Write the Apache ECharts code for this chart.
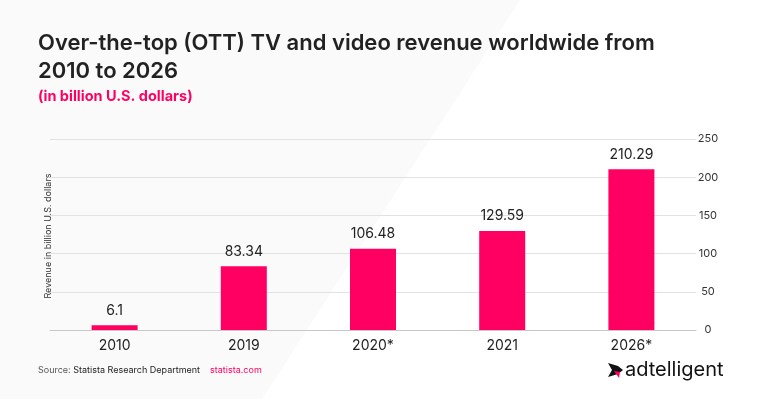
<!DOCTYPE html>
<html>
<head>
<meta charset="utf-8">
<script src="https://cdn.jsdelivr.net/npm/echarts@6/dist/echarts.min.js"></script>
<style>
  html, body { margin: 0; padding: 0; background: #fff; }
  #main { width: 760px; height: 399px; }
</style>
</head>
<body>
<div id="main"></div>
<script>
// data
var years = ['2010', '2019', '2020*', '2021', '2026*'];
var revenue = [6.1, 83.34, 106.48, 129.59, 210.29];
var yTicks = [0, 50, 100, 150, 200, 250];

var chartDom = document.getElementById('main');
var myChart = echarts.init(chartDom);
var pink = '#ff0062';
var font = 'Inter, "Noto Sans", sans-serif';

var option = {
  backgroundColor: '#fff',
  textStyle: { fontFamily: font },
  animation: false,
  graphic: [
    // light panel behind the left side
    {
      type: 'polygon', z: -10, silent: true,
      shape: { points: [[0, 0], [520, 0], [262, 399], [0, 399]] },
      style: { fill: '#fafafa' }
    },
    {
      type: 'text', left: 38, top: 29,
      style: {
        text: 'Over-the-top (OTT) TV and video revenue worldwide from\n2010 to 2026',
        font: '600 22px ' + font, fill: '#222', lineHeight: 28
      }
    },
    {
      type: 'text', left: 38, top: 89,
      style: { text: '(in billion U.S. dollars)', font: 'bold 14.5px ' + font, fill: pink }
    },
    {
      type: 'text', x: 48, y: 236, rotation: Math.PI / 2,
      style: {
        text: 'Revenue in billion U.S. dollars', font: '9px ' + font, fill: '#333',
        align: 'center', verticalAlign: 'middle'
      }
    },
    {
      type: 'text', left: 38, top: 366,
      style: {
        text: '{a|Source: }{b|Statista Research Department}{c|statista.com}',
        rich: {
          a: { font: '9px ' + font, fill: '#555' },
          b: { font: '9px ' + font, fill: '#222' },
          c: { font: '9px ' + font, fill: pink, padding: [0, 0, 0, 10] }
        }
      }
    },
    // logo
    {
      type: 'polygon',
      shape: { points: [[608, 363], [618, 366], [623, 370], [618, 374], [608, 377], [612, 370]] },
      style: { fill: '#111' }
    },
    {
      type: 'polygon',
      shape: { points: [[614, 371], [620, 372], [619, 378]] },
      style: { fill: pink }
    },
    {
      type: 'text', left: 625, top: 360,
      style: { text: 'adtelligent', font: '20px ' + font, fill: '#111' }
    }
  ],
  grid: { left: 50, right: 64, top: 139, bottom: 69 },
  xAxis: {
    type: 'category',
    data: years,
    axisTick: { show: false },
    axisLine: { lineStyle: { color: '#c8c8c8' } },
    axisLabel: { color: '#222', fontSize: 14, margin: 9 }
  },
  yAxis: {
    type: 'value',
    position: 'right',
    min: yTicks[0],
    max: yTicks[yTicks.length - 1],
    interval: 50,
    axisLine: { show: false },
    axisTick: { show: false },
    splitLine: { lineStyle: { color: '#e2e2e2' } },
    axisLabel: { color: '#333', fontSize: 11, margin: 12, align: 'center' }
  },
  series: [
    {
      type: 'bar',
      data: revenue,
      barWidth: 46,
      itemStyle: { color: pink },
      label: {
        show: true, position: 'top', distance: 8,
        color: '#222', fontSize: 14
      }
    }
  ]
};

option && myChart.setOption(option);
</script>
</body>
</html>
